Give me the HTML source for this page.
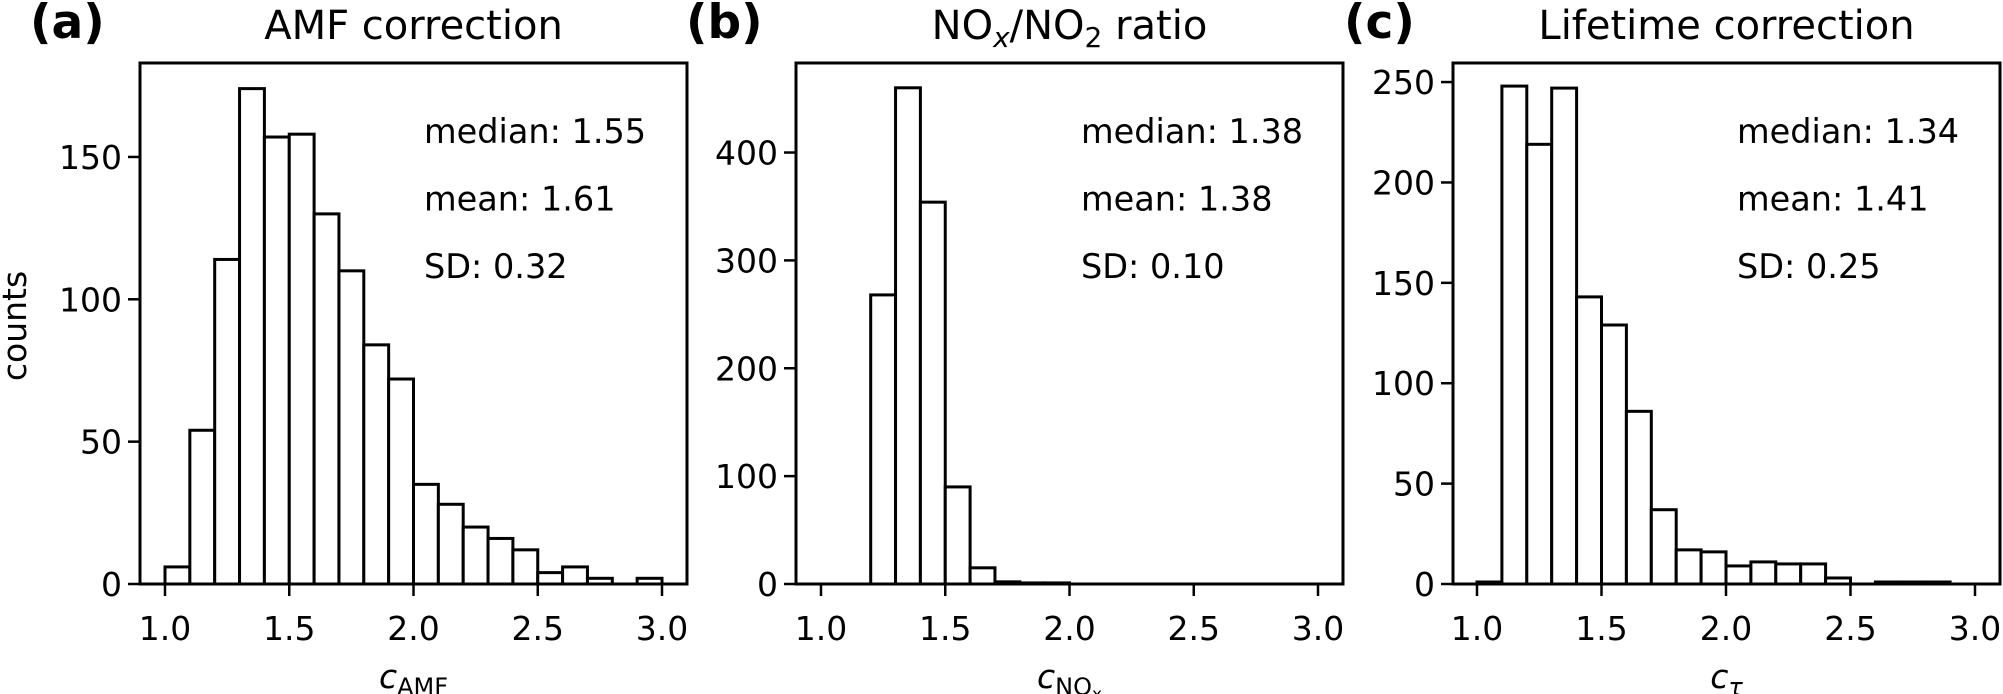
<!DOCTYPE html>
<html><head><meta charset="utf-8"><style>
html,body{margin:0;padding:0;background:#fff;}
svg{display:block;font-family:"DejaVu Sans","Liberation Sans",sans-serif;}
</style></head><body>
<svg id="fig" width="2003" height="694" viewBox="0 0 2003 694" xmlns="http://www.w3.org/2000/svg"></svg>
<script>
const binEdgesStart = 1.0;
const binWidth = 0.1;
const amfCounts = [6,54,114,174,157,158,130,110,84,72,35,28,20,16,12,4,6,2,0,2];
const noxCounts = [0,0,268,460,354,90,15,2,1,1,0,0,0,0,0,0,0,0,0,0];
const tauCounts = [1,248,219,247,143,129,86,37,17,16,9,11,10,10,3,0,1,1,1,0];
const xTicks = [1.0,1.5,2.0,2.5,3.0];
const xTickLabels = ["1.0","1.5","2.0","2.5","3.0"];
const amfYTicks = [0,50,100,150];
const noxYTicks = [0,100,200,300,400];
const tauYTicks = [0,50,100,150,200,250];
const amfStats = ["median: 1.55","mean: 1.61","SD: 0.32"];
const noxStats = ["median: 1.38","mean: 1.38","SD: 0.10"];
const tauStats = ["median: 1.34","mean: 1.41","SD: 0.25"];

const NS="http://www.w3.org/2000/svg";
const svgRoot=document.getElementById('fig');
function mk(tag,attrs,parent){const e=document.createElementNS(NS,tag);for(const k in attrs)e.setAttribute(k,attrs[k]);(parent||svgRoot).appendChild(e);return e;}

const panels=[
 {id:'a',counts:amfCounts,yticks:amfYTicks,stats:amfStats,left:140,right:687,x0:165,x1:662,ymax:183,label:'(a)',labelX:30,title:'AMF correction',xsub:'AMF',statX:424},
 {id:'b',counts:noxCounts,yticks:noxYTicks,stats:noxStats,left:796,right:1343,x0:821,x1:1318,ymax:483,label:'(b)',labelX:686,title:'NOX',xsub:'NOx',statX:1081},
 {id:'c',counts:tauCounts,yticks:tauYTicks,stats:tauStats,left:1453,right:2000,x0:1477,x1:1975,ymax:259.5,label:'(c)',labelX:1344,title:'Lifetime correction',xsub:'tau',statX:1737}
];
const plotTop=63, plotBottom=584;

panels.forEach(p=>{
  const g=mk('g',{});
  
  
  const xs=v=>p.x0+(v-1.0)*(p.x1-p.x0)/2.0;
  const ys=v=>plotBottom-v*(plotBottom-plotTop)/p.ymax;
  p.counts.forEach((c,i)=>{
    const xa=xs(binEdgesStart+i*binWidth), xb=xs(binEdgesStart+(i+1)*binWidth);
    const r=mk('rect',{x:xa,y:ys(c),width:xb-xa,height:plotBottom-ys(c),fill:'#fff',stroke:'#000','stroke-width':3},g);
    
    
  });
  const fr=mk('rect',{x:p.left,y:plotTop,width:p.right-p.left,height:plotBottom-plotTop,fill:'none',stroke:'#000','stroke-width':3},g);
  
  
  xTicks.forEach((t,i)=>{
    mk('line',{x1:xs(t),x2:xs(t),y1:plotBottom,y2:plotBottom+12,stroke:'#000','stroke-width':2.5},g);
    const tx=mk('text',{x:xs(t),y:640,'font-size':33,'text-anchor':'middle'},g);
    tx.textContent=xTickLabels[i];
    
    
  });
  p.yticks.forEach(t=>{
    mk('line',{x1:p.left-12,x2:p.left,y1:ys(t),y2:ys(t),stroke:'#000','stroke-width':2.5},g);
    const tx=mk('text',{x:p.left-18,y:ys(t)+12,'font-size':33,'text-anchor':'end'},g);
    tx.textContent=String(t);
    
    
  });
  p.stats.forEach((s,i)=>{
    const tx=mk('text',{x:p.statX,y:143+i*67.5,'font-size':33.5},g);
    tx.textContent=s;
    
    
  });
  const pl=mk('text',{x:p.labelX,y:38,'font-size':47,'font-weight':'bold'},g);
  pl.textContent=p.label;
  
  
  const cx=(p.left+p.right)/2;
  const tt=mk('text',{x:cx,y:39,'font-size':40,'text-anchor':'middle'},g);
  
  
  if(p.title==='NOX'){
    tt.innerHTML='NO<tspan font-style="italic" font-size="28" dy="8">x</tspan><tspan dy="-8">/NO</tspan><tspan font-size="28" dy="8">2</tspan><tspan dy="-8"> ratio</tspan>';
  } else tt.textContent=p.title;
  const xl=mk('text',{x:cx,y:688,'font-size':33,'text-anchor':'middle'},g);
  
  
  if(p.xsub==='NOx'){
    xl.innerHTML='<tspan font-style="italic">c</tspan><tspan font-size="24" dy="7">NO</tspan><tspan font-size="17" dy="5">x</tspan>';
  } else if(p.xsub==='tau'){
    xl.innerHTML='<tspan font-style="italic">c</tspan><tspan font-size="24" dy="7" font-style="italic">τ</tspan>';
  } else {
    xl.innerHTML='<tspan font-style="italic">c</tspan><tspan font-size="24" dy="7">AMF</tspan>';
  }
});
const yl=mk('text',{x:0,y:0,'font-size':33,'text-anchor':'middle',transform:'translate(26,326) rotate(-90)'});
yl.textContent='counts';


</script>
</body></html>
